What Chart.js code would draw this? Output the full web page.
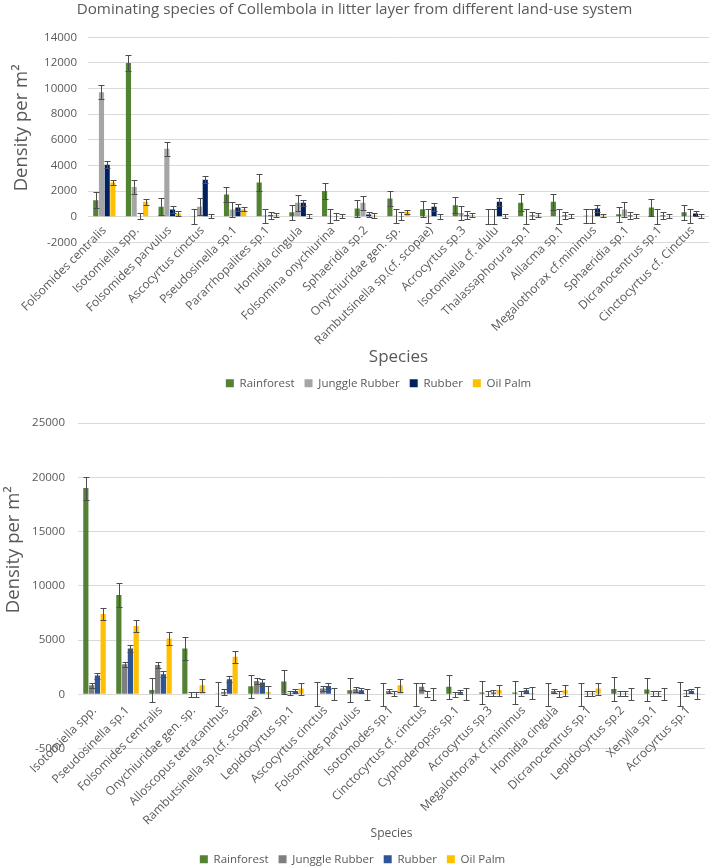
<!DOCTYPE html>
<html>
<head>
<meta charset="utf-8">
<title>Dominating species of Collembola</title>
<script src="https://cdn.jsdelivr.net/npm/chart.js@4"></script>
<style>
  html, body { margin: 0; padding: 0; background: #fff; overflow: hidden; }
  #litterBox { position: absolute; left: 0; top: 0; }
  #soilBox { position: absolute; left: 0; top: 399px; }
</style>
</head>
<body>
<div id="litterBox"><canvas id="litterChart" width="709" height="399"></canvas></div>
<div id="soilBox"><canvas id="soilChart" width="709" height="476"></canvas></div>
<script>
// ===================================
// DATA
// ===================================
const seriesNames = ["Rainforest", "Junggle Rubber", "Rubber", "Oil Palm"];

// upper chart (litter layer)
const litterSpecies = [
  "Folsomides centralis", "Isotomiella spp.", "Folsomides parvulus", "Ascocyrtus cinctus",
  "Pseudosinella sp.1", "Pararrhopalites sp.1", "Homidia cingula", "Folsomina onychiurina",
  "Sphaeridia sp.2", "Onychiuridae gen. sp.", "Rambutsinella sp.(cf. scopae)", "Acrocyrtus sp.3",
  "Isotomiella cf. alulu", "Thalassaphorura sp.1", "Allacma sp.1", "Megalothorax cf.minimus",
  "Sphaeridia sp.1", "Dicranocentrus sp.1", "Cinctocyrtus cf. Cinctus"
];
const litterRainforest = [1300, 12000, 780, 60, 1740, 2670, 350, 2020, 650, 1430, 600, 900, 50, 1090, 1170, 80, 200, 730, 360];
const litterJunggle    = [9720, 2330, 5300, 780, 570, 100, 1090, 80, 1090, 80, 80, 300, 50, 50, 50, 80, 570, 50, 80];
const litterRubber     = [4070, 50, 570, 2900, 730, 130, 1090, 20, 180, 60, 780, 130, 1170, 100, 100, 650, 100, 100, 260];
const litterOilPalm    = [2670, 1170, 260, 50, 600, 150, 50, 50, 100, 390, 40, 130, 50, 130, 50, 100, 50, 50, 50];

const litterRainforestErr = [600, 600, 650, 580, 600, 650, 600, 620, 650, 600, 620, 630, 580, 670, 620, 560, 600, 640, 600];
const litterJunggleErr    = [550, 550, 530, 650, 600, 550, 600, 550, 520, 540, 540, 570, 580, 580, 570, 560, 570, 570, 540];
const litterRubberErr     = [250, 250, 300, 290, 300, 260, 260, 250, 200, 320, 300, 300, 310, 280, 260, 250, 270, 260, 230];
const litterOilPalmErr    = [180, 250, 200, 150, 180, 150, 150, 150, 170, 180, 170, 150, 150, 150, 150, 150, 150, 150, 140];

// lower chart
const soilSpecies = [
  "Isotomiella spp.", "Pseudosinella sp.1", "Folsomides centralis", "Onychiuridae gen. sp.",
  "Alloscopus tetracanthus", "Rambutsinella sp.(cf. scopae)", "Lepidocyrtus sp.1", "Ascocyrtus cinctus",
  "Folsomides parvulus", "Isotomodes sp.1", "Cinctocyrtus cf. cinctus", "Cyphoderopsis sp.1",
  "Acrocyrtus sp.3", "Megalothorax cf.minimus", "Homidia cingula", "Dicranocentrus sp.1",
  "Lepidocyrtus sp.2", "Xenylla sp.1", "Acrocyrtus sp.1"
];
const soilRainforest = [19000, 9140, 400, 4215, 60, 740, 1170, 0, 370, 0, 0, 680, 150, 150, 0, 0, 490, 430, 0];
const soilJunggle    = [830, 2770, 2700, 0, 200, 1230, 100, 520, 450, 310, 700, 0, 50, 50, 310, 60, 60, 60, 100];
const soilRubber     = [1720, 4215, 1850, 0, 1385, 1080, 310, 770, 370, 60, 0, 215, 150, 370, 50, 60, 60, 60, 310];
const soilOilPalm    = [7385, 6280, 5140, 830, 3450, 200, 520, 0, 0, 830, 50, 0, 370, 120, 370, 520, 0, 0, 100];

const soilRainforestErr = [1060, 1080, 1080, 1080, 1100, 1080, 1110, 1100, 1100, 1080, 1080, 1130, 1050, 1060, 1080, 1080, 1080, 1080, 1100];
const soilJunggleErr    = [250, 220, 280, 250, 250, 250, 200, 220, 230, 210, 300, 220, 230, 230, 210, 200, 220, 200, 250];
const soilRubberErr     = [280, 300, 270, 250, 280, 300, 210, 300, 250, 250, 280, 215, 280, 250, 260, 200, 220, 200, 210];
const soilOilPalmErr    = [520, 550, 580, 580, 550, 550, 550, 550, 510, 580, 550, 550, 520, 550, 520, 560, 550, 550, 550];

const TEXT = "#595959";
Chart.defaults.font.family = "'Open Sans', sans-serif";
Chart.defaults.color = TEXT;

// ===================================
// PLUGINS
// ===================================

// error bars, placed with the y scale
const errorBarPlugin = {
  id: "errorBars",
  afterDatasetsDraw(chart, args, opts) {
    const { ctx } = chart;
    const yScale = chart.scales.y;
    ctx.save();
    ctx.strokeStyle = opts.color;
    ctx.lineWidth = 1;
    chart.data.datasets.forEach((ds, i) => {
      const meta = chart.getDatasetMeta(i);
      if (meta.hidden || !ds.errors) return;
      meta.data.forEach((bar, j) => {
        const v = ds.data[j];
        const e = ds.errors[j];
        const x = Math.round(bar.x) + 0.5;
        const hi = Math.round(yScale.getPixelForValue(v + e)) + 0.5;
        const lo = Math.round(yScale.getPixelForValue(v - e)) + 0.5;
        ctx.beginPath();
        ctx.moveTo(x, hi); ctx.lineTo(x, lo);
        ctx.moveTo(x - opts.cap, hi); ctx.lineTo(x + opts.cap, hi);
        ctx.moveTo(x - opts.cap, lo); ctx.lineTo(x + opts.cap, lo);
        ctx.stroke();
      });
    });
    ctx.restore();
  }
};

// nudge the legend sideways (Excel didn't centre it on the canvas)
const legendShiftPlugin = {
  id: "legendShift",
  afterLayout(chart, args, opts) {
    if (!chart.legend || !opts.dx) return;
    chart.legend.left += opts.dx;
    chart.legend.right += opts.dx;
  }
};

// ===================================
// HELPERS
// ===================================
function makeDatasets(values, errors, colors) {
  return seriesNames.map((name, i) => ({
    label: name,
    data: values[i],
    errors: errors[i],
    backgroundColor: colors[i],
    borderWidth: 0,
    categoryPercentage: 0.7,
    barPercentage: 0.9
  }));
}

function makeChart(canvasId, cfg) {
  const ctx = document.getElementById(canvasId).getContext("2d");
  return new Chart(ctx, {
    type: "bar",
    data: {
      labels: cfg.labels,
      datasets: makeDatasets(cfg.values, cfg.errors, cfg.colors)
    },
    plugins: [errorBarPlugin, legendShiftPlugin],
    options: {
      responsive: false,
      animation: false,
      layout: { padding: cfg.padding },
      plugins: {
        title: cfg.title,
        tooltip: { enabled: false },
        legend: {
          position: "bottom",
          labels: { boxWidth: 8, boxHeight: 8, padding: 10, font: { size: 11.5 }, color: TEXT }
        },
        legendShift: { dx: cfg.legendDx },
        errorBars: { color: "#4d4d4d", cap: 3 }
      },
      scales: {
        x: {
          grid: { display: false, drawTicks: false },
          border: { display: false },
          ticks: {
            autoSkip: false, minRotation: 45, maxRotation: 45,
            padding: cfg.labelPad, font: { size: 12 }, color: TEXT
          },
          title: {
            display: true, text: "Species", color: TEXT,
            font: { size: cfg.xTitleSize }, padding: { top: 0, bottom: cfg.xTitlePad }
          },
          afterFit(scale) {
            scale.height = cfg.xHeight;
            // labels sit up against the zero line, so don't clip them to the axis box
            scale._computeLabelArea = () => undefined;
          }
        },
        y: {
          min: cfg.yMin, max: cfg.yMax,
          ticks: {
            stepSize: cfg.yStep, padding: cfg.tickPad, font: { size: 11.5 }, color: TEXT,
            callback: v => String(v)
          },
          grid: { color: "#d9d9d9", drawTicks: false },
          border: { display: false },
          title: {
            display: true, text: cfg.yTitle, color: TEXT,
            font: { size: 18.5 }, padding: { top: cfg.yTitlePad, bottom: 0 }
          },
          afterFit(scale) { scale.width = cfg.yWidth; }
        }
      }
    }
  });
}

// ===================================
// RENDER
// ===================================
makeChart("litterChart", {
  labels: litterSpecies,
  values: [litterRainforest, litterJunggle, litterRubber, litterOilPalm],
  errors: [litterRainforestErr, litterJunggleErr, litterRubberErr, litterOilPalmErr],
  colors: ["#548235", "#a5a5a5", "#002060", "#ffc000"],
  title: {
    display: true,
    text: "Dominating species of Collembola in litter layer from different land-use system",
    color: TEXT, font: { size: 15.2, weight: "normal" }, padding: { top: 1, bottom: 18 }
  },
  padding: { top: 0, right: 0, bottom: 0, left: 0 },
  yMin: -2000, yMax: 14000, yStep: 2000,
  yTitle: "     Density per m²",
  yWidth: 88, tickPad: 11, yTitlePad: 11,
  xHeight: 125, labelPad: -19, xTitleSize: 17, xTitlePad: 0,
  legendDx: 24
});

makeChart("soilChart", {
  labels: soilSpecies,
  values: [soilRainforest, soilJunggle, soilRubber, soilOilPalm],
  errors: [soilRainforestErr, soilJunggleErr, soilRubberErr, soilOilPalmErr],
  colors: ["#548235", "#7f7f7f", "#2f5597", "#ffc000"],
  title: { display: false },
  padding: { top: 24, right: 4, bottom: 0, left: 0 },
  yMin: -5000, yMax: 25000, yStep: 5000,
  yTitle: "               Density per m²",
  yWidth: 78, tickPad: 13, yTitlePad: 3,
  xHeight: 95, labelPad: -45, xTitleSize: 12, xTitlePad: 3,
  legendDx: 0
});
</script>
</body>
</html>
